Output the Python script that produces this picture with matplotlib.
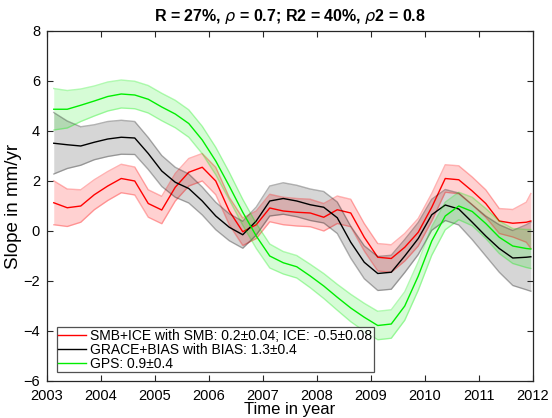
import numpy as np
import matplotlib
matplotlib.use("Agg")
import matplotlib.pyplot as plt

plt.rcParams['font.family'] = ['Liberation Sans', 'DejaVu Sans']
plt.rcParams['mathtext.fontset'] = 'dejavusans'

# sample times (years)
t = np.append(2003.125 + 0.25 * np.arange(36), 2011.96)

# SMB+ICE
red = [1.13, 0.93, 1.0, 1.45, 1.8, 2.1, 2.0, 1.1, 0.84, 1.75, 2.35, 2.55, 2.0,
       0.8, -0.03, 0.25, 0.92, 0.8, 0.75, 0.72, 0.55, 0.85, 0.72, -0.25, -1.05,
       -1.1, -0.65, -0.05, 0.95, 2.1, 2.05, 1.6, 1.1, 0.4, 0.31, 0.35, 0.4]
red_err = [0.88, 0.75, 0.65, 0.6, 0.58, 0.57, 0.56, 0.55, 0.55, 0.55, 0.55, 0.55,
           0.55, 0.55, 0.55, 0.55, 0.55, 0.55, 0.55, 0.55, 0.55, 0.55, 0.55, 0.55,
           0.55, 0.55, 0.55, 0.55, 0.55, 0.55, 0.56, 0.56, 0.55, 0.5, 0.55, 0.8, 1.1]

# GRACE+BIAS
black = [3.51, 3.45, 3.4, 3.55, 3.68, 3.75, 3.72, 3.1, 2.4, 1.95, 1.7, 1.2, 0.6,
         0.15, -0.15, 0.4, 1.2, 1.3, 1.2, 1.05, 0.95, 0.53, -0.45, -1.25, -1.7,
         -1.65, -1.0, -0.3, 0.65, 1.04, 0.88, 0.35, -0.2, -0.7, -1.08, -1.05, -1.03]
black_err = [1.23, 0.95, 0.77, 0.7, 0.7, 0.68, 0.66, 0.64, 0.62, 0.6, 0.58, 0.56,
             0.55, 0.54, 0.54, 0.56, 0.6, 0.63, 0.63, 0.63, 0.63, 0.63, 0.64, 0.66,
             0.68, 0.68, 0.66, 0.64, 0.62, 0.62, 0.64, 0.7, 0.8, 0.95, 1.1, 1.3, 1.38]

# GPS
green = [4.87, 4.87, 5.03, 5.2, 5.38, 5.48, 5.44, 5.27, 4.96, 4.68, 4.3, 3.64, 2.8,
         1.8, 0.75, -0.2, -1.0, -1.27, -1.43, -1.8, -2.2, -2.65, -3.08, -3.45,
         -3.78, -3.72, -3.0, -1.8, -0.4, 0.6, 1.0, 0.78, 0.3, -0.25, -0.6, -0.7, -0.72]
green_err = [0.83, 0.75, 0.65, 0.6, 0.58, 0.56, 0.55, 0.55, 0.55, 0.55, 0.55, 0.55,
             0.55, 0.55, 0.52, 0.5, 0.48, 0.45, 0.45, 0.47, 0.5, 0.52, 0.55, 0.56,
             0.57, 0.57, 0.57, 0.57, 0.57, 0.55, 0.55, 0.57, 0.6, 0.65, 0.7, 0.76, 0.78]

labels = ['SMB+ICE with SMB: 0.2\u00b10.04; ICE: -0.5\u00b10.08',
          'GRACE+BIAS with BIAS: 1.3\u00b10.4',
          'GPS: 0.9\u00b10.4']

fig = plt.figure(figsize=(5.52, 4.18), dpi=100)
ax = fig.add_axes([47/552, 37/418, 486/552, 350/418])

series = [(red, red_err, '#ff0000', 0.18),
          (black, black_err, '#000000', 0.16),
          (green, green_err, '#00ee00', 0.16)]

handles = []
for (y, e, c, a), lab in zip(series, labels):
    y = np.array(y)
    e = np.array(e)
    ax.fill_between(t, y - e, y + e, color=c, alpha=a, lw=0)
    ax.plot(t, y + e, color=c, alpha=0.3, lw=1)
    ax.plot(t, y - e, color=c, alpha=0.3, lw=1)
    h, = ax.plot(t, y, color=c, lw=1, label=lab)
    handles.append(h)

ax.set_xlim(2003, 2012)
ax.set_ylim(-6, 8)
ax.set_xticks(range(2003, 2013))
ax.set_yticks(range(-6, 9, 2))
ax.tick_params(direction='in', top=True, right=True, labelsize=10.5, length=4,
               color='#262626')
ax.tick_params(axis='x', pad=6)
ax.tick_params(axis='y', pad=5)
for s in ax.spines.values():
    s.set_color('#262626')
    s.set_linewidth(0.9)

ax.set_xlabel('Time in year', fontsize=12, labelpad=-1)
ax.set_ylabel('Slope in mm/yr', fontsize=13.5, labelpad=1)
ax.set_title('R = 27%, $\\rho$ = 0.7; R2 = 40%, $\\rho$2 = 0.8',
             fontsize=11.5, fontweight='bold', pad=7)

leg = ax.legend(handles=handles, loc='lower left', bbox_to_anchor=(0.02, 0.025),
                fontsize=10, frameon=True, fancybox=False, handlelength=2.0,
                handletextpad=0.3, borderpad=0.1, labelspacing=0.0,
                borderaxespad=0)
leg.get_frame().set_edgecolor('#262626')
leg.get_frame().set_linewidth(0.9)

fig.savefig('out.png', dpi=100)
